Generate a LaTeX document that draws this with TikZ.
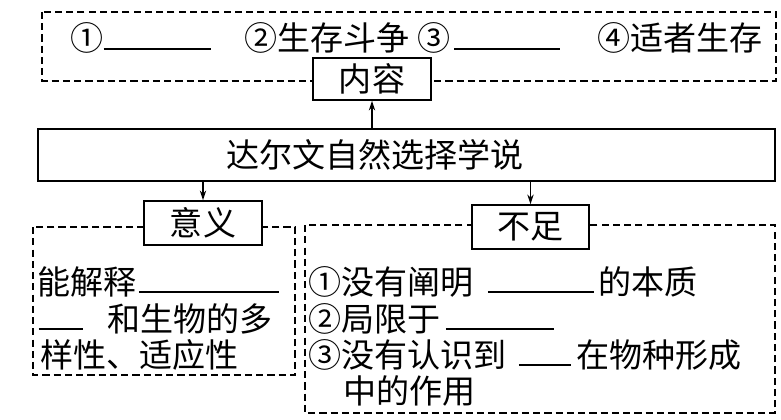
\documentclass[tikz,border=0pt]{standalone}
\usepackage{fontspec}
\usepackage{tikz}
\usetikzlibrary{arrows,arrows.meta,positioning,calc}
\newfontfamily\cjk{Noto Sans CJK SC}
\newcommand{\fillin}[1]{\rule[0.04em]{#1}{1pt}}

\begin{document}
\begin{tikzpicture}[x=0.025cm, y=-0.025cm, line width=1pt, >={Stealth[length=7pt,width=4.5pt]},
  every node/.style={font=\cjk\fontsize{23.5}{28}\selectfont, inner sep=0pt},
  box/.style={draw, fill=white, minimum width=2.95cm, minimum height=1.1cm},
  dbox/.style={dash pattern=on 5pt off 3pt}]
\useasboundingbox (0,0) rectangle (781,420);

%dashed frames
\draw[dbox] (42,12) rectangle (776,81);
\draw[dbox] (33,227) rectangle (295,375);
\draw[dbox] (305,225) rectangle (775,413);

%main box
\node[box, minimum width=18.425cm, minimum height=1.3cm] (theory) at (406.5,155) {};
\node (theorytext) at (375,155) {达尔文自然选择学说};

\node[box, minimum height=1.05cm] (neirong) at (372,79) {内容};
\node[box] (yiyi) at (203,223) {意义};
\node[box, minimum width=2.925cm] (buzu) at (530.5,227) {不足};

\draw[->] (theory.north -| neirong) -- (neirong.south);
\draw[->] (theory.south -| yiyi) -- (yiyi.north);
\draw[->] (theory.south -| buzu) -- (buzu.north);

%content
\node[anchor=base west] (c1) at (70,51) {①\fillin{3.24em}};
\node[anchor=base west] (c2) at (244,51) {②生存斗争};
\node[anchor=base west] (c3) at (417,51) {③\hspace{0.1em}\fillin{3.2em}};
\node[anchor=base west] (c4) at (597,51) {④适者生存};

%meaning
\node[anchor=base west] (m1) at (37,294) {能解释\hspace{0.06em}\fillin{4.24em}};
\node[anchor=base west] (m2) at (38,331) {\fillin{1.33em}\hspace{0.76em}和生物的多};
\node[anchor=base west] (m3) at (40,367) {样性、适应性};

%shortcomings
\node[anchor=base west] (d1) at (308,294) {①没有阐明\hspace{0.42em}\fillin{3.2em}\hspace{0.15em}的本质};
\node[anchor=base west] (d2) at (308,331) {②局限于\hspace{0.15em}\fillin{3.27em}};
\node[anchor=base west] (d3) at (308,367) {③没有认识到\hspace{0.36em}\fillin{1.58em}\hspace{0.15em}在物种形成};
\node[anchor=base west] (d4) at (343,403) {中的作用};
\end{tikzpicture}
\end{document}
